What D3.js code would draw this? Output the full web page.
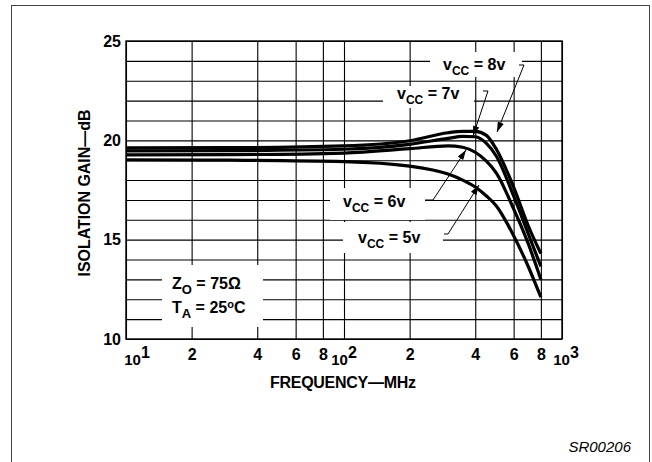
<!DOCTYPE html>
<html>
<head>
<meta charset="utf-8">
<script src="https://cdn.jsdelivr.net/npm/d3@7"></script>
<style>
  body { margin: 0; background: #fff; }
  svg { display: block; font-family: Arial, "Liberation Sans", Helvetica, sans-serif; }
  .grid line { stroke: #000; stroke-width: 1.1; }
  .grid path { display: none; }
  .lbl { font-size: 16px; font-weight: bold; }
</style>
</head>
<body>
<div id="chart"></div>
<script>
// frequency points (MHz) and isolation gain (dB) per supply voltage
var freq   = [10, 30, 100, 200, 300, 350, 400, 450, 500, 600, 700, 800];
var vcc8   = [19.62, 19.63, 19.72, 19.98, 20.38, 20.45, 20.45, 20.25, 19.55, 17.65, 15.7, 14.3];
var vcc7   = [19.47, 19.48, 19.55, 19.8, 20.1, 20.2, 20.18, 19.85, 19.2, 17.2, 15.3, 13.65];
var vcc6   = [19.27, 19.28, 19.36, 19.58, 19.72, 19.65, 19.4, 18.95, 18.35, 16.55, 14.8, 13.0];
var vcc5   = [19.02, 19.0, 18.93, 18.7, 18.3, 18.0, 17.65, 17.2, 16.7, 15.2, 13.65, 12.1];
var seriesNames = ["8v", "7v", "6v", "5v"];

var xGrid   = [10, 20, 40, 60, 80, 100, 200, 400, 600, 800, 1000];
var xMinor  = [20, 40, 60, 80, 200, 400, 600, 800];
var xDecade = [10, 100, 1000];
var yLabels = [10, 15, 20, 25];

var W = 652, H = 462;
var svg = d3.select("#chart").append("svg").attr("width", W).attr("height", H);

// outer frame
svg.append("rect").attr("x", 11.5).attr("y", 5.5).attr("width", 638).attr("height", 470)
  .attr("fill", "none").attr("stroke", "#444").attr("stroke-width", 1);

var x = d3.scaleLog().domain([10, 1000]).range([126, 562]);
var y = d3.scaleLinear().domain([10, 25]).range([339, 41]);

// grid
svg.append("g").attr("class", "grid").attr("transform", "translate(0,339)")
  .call(d3.axisBottom(x).tickValues(xGrid).tickSize(-298).tickFormat(""));
svg.append("g").attr("class", "grid").attr("transform", "translate(126,0)")
  .call(d3.axisLeft(y).tickValues(d3.range(10, 26)).tickSize(-436).tickFormat(""));
// plot border
svg.append("rect").attr("x", 126).attr("y", 41).attr("width", 436).attr("height", 298)
  .attr("fill", "none").attr("stroke", "#000").attr("stroke-width", 1.4);

// white boxes behind labels
var boxes = [[430, 52, 92, 25], [383, 86, 91, 22], [330, 188, 95, 32], [343, 222, 100, 31], [162, 265, 101, 62]];
svg.selectAll("rect.box").data(boxes).enter().append("rect").attr("class", "box")
  .attr("x", d => d[0]).attr("y", d => d[1]).attr("width", d => d[2]).attr("height", d => d[3])
  .attr("fill", "#fff");

// curves
var line = d3.line().x(d => x(d[0])).y(d => y(d[1])).curve(d3.curveMonotoneX);
[vcc8, vcc7, vcc6, vcc5].forEach(function(s) {
  svg.append("path").datum(freq.map((f, i) => [f, s[i]]))
    .attr("d", line).attr("fill", "none").attr("stroke", "#000")
    .attr("stroke-width", 3.2).attr("stroke-linejoin", "round");
});

// y axis labels
var ya = svg.append("g").attr("transform", "translate(126,0)")
  .call(d3.axisLeft(y).tickValues(yLabels).tickSize(0).tickPadding(5));
ya.select(".domain").remove();
ya.selectAll("text").attr("class", "lbl").attr("font-family", null).attr("font-size", null);

// x axis labels
var xa = svg.append("g").attr("transform", "translate(0,339)")
  .call(d3.axisBottom(x).tickValues(xMinor).tickSize(0).tickPadding(10)
    .tickFormat(d => d / Math.pow(10, Math.floor(Math.log10(d) + 1e-9))));
xa.select(".domain").remove();
xa.selectAll("text").attr("class", "lbl").attr("font-family", null).attr("font-size", null);

var dec = svg.selectAll("text.dec").data(xDecade).enter().append("text")
  .attr("class", "lbl dec").attr("x", (d, i) => x(d) + (i === 0 ? 11 : i === 2 ? 4 : 0))
  .attr("y", 365).attr("text-anchor", "middle");
dec.append("tspan").attr("font-size", 15).text("10");
dec.append("tspan").attr("dy", -7).text(d => Math.round(Math.log10(d)));

// axis titles
svg.append("text").attr("class", "lbl").attr("x", 343).attr("y", 388)
  .attr("text-anchor", "middle").attr("textLength", 146).text("FREQUENCY\u2014MHz");
svg.append("text").attr("class", "lbl").attr("transform", "translate(90,193) rotate(-90)")
  .attr("text-anchor", "middle").attr("textLength", 167).text("ISOLATION GAIN\u2014dB");

// Vcc labels with leaders
var labelPos = [[443, 71], [397, 100], [343, 208], [358, 244]];
var leaders = [
  [[519, 65], [524, 65], [497, 132]],
  [[483, 91], [488, 91], [473, 136]],
  [[425, 200], [433, 200], [466, 150]],
  [[444, 234], [448, 234], [479, 185]]
];
seriesNames.forEach(function(n, i) {
  var t = svg.append("text").attr("class", "lbl").attr("x", labelPos[i][0]).attr("y", labelPos[i][1] - 1);
  t.append("tspan").text("v");
  t.append("tspan").attr("font-size", 12).attr("dy", 5).text("CC");
  t.append("tspan").attr("dy", -5).text(" = " + n);
  var p = leaders[i];
  svg.append("path").attr("d", d3.line()(p)).attr("fill", "none").attr("stroke", "#000").attr("stroke-width", 1);
  var a = p[1], b = p[2];
  var ang = Math.atan2(b[1] - a[1], b[0] - a[0]);
  var L = 10, w = 3.2;
  var bx = b[0] - L * Math.cos(ang), by = b[1] - L * Math.sin(ang);
  svg.append("path").attr("d", d3.line()([b,
      [bx + w * Math.sin(ang), by - w * Math.cos(ang)],
      [bx - w * Math.sin(ang), by + w * Math.cos(ang)]]) + "Z")
    .attr("fill", "#000");
});

// conditions box
var z = svg.append("text").attr("class", "lbl").attr("x", 172).attr("y", 289);
z.append("tspan").text("Z");
z.append("tspan").attr("font-size", 13).attr("dy", 5).text("O");
z.append("tspan").attr("dy", -5).text(" = 75\u03A9");
var ta = svg.append("text").attr("class", "lbl").attr("x", 172).attr("y", 313);
ta.append("tspan").text("T");
ta.append("tspan").attr("font-size", 13).attr("dy", 5).text("A");
ta.append("tspan").attr("dy", -5).text(" = 25");
ta.append("tspan").attr("font-size", 11).attr("dy", -5).text("o");
ta.append("tspan").attr("dy", 5).text("C");

svg.append("text").attr("x", 631).attr("y", 452).attr("text-anchor", "end")
  .attr("font-size", 15).attr("font-style", "italic").text("SR00206");
</script>
</body>
</html>
